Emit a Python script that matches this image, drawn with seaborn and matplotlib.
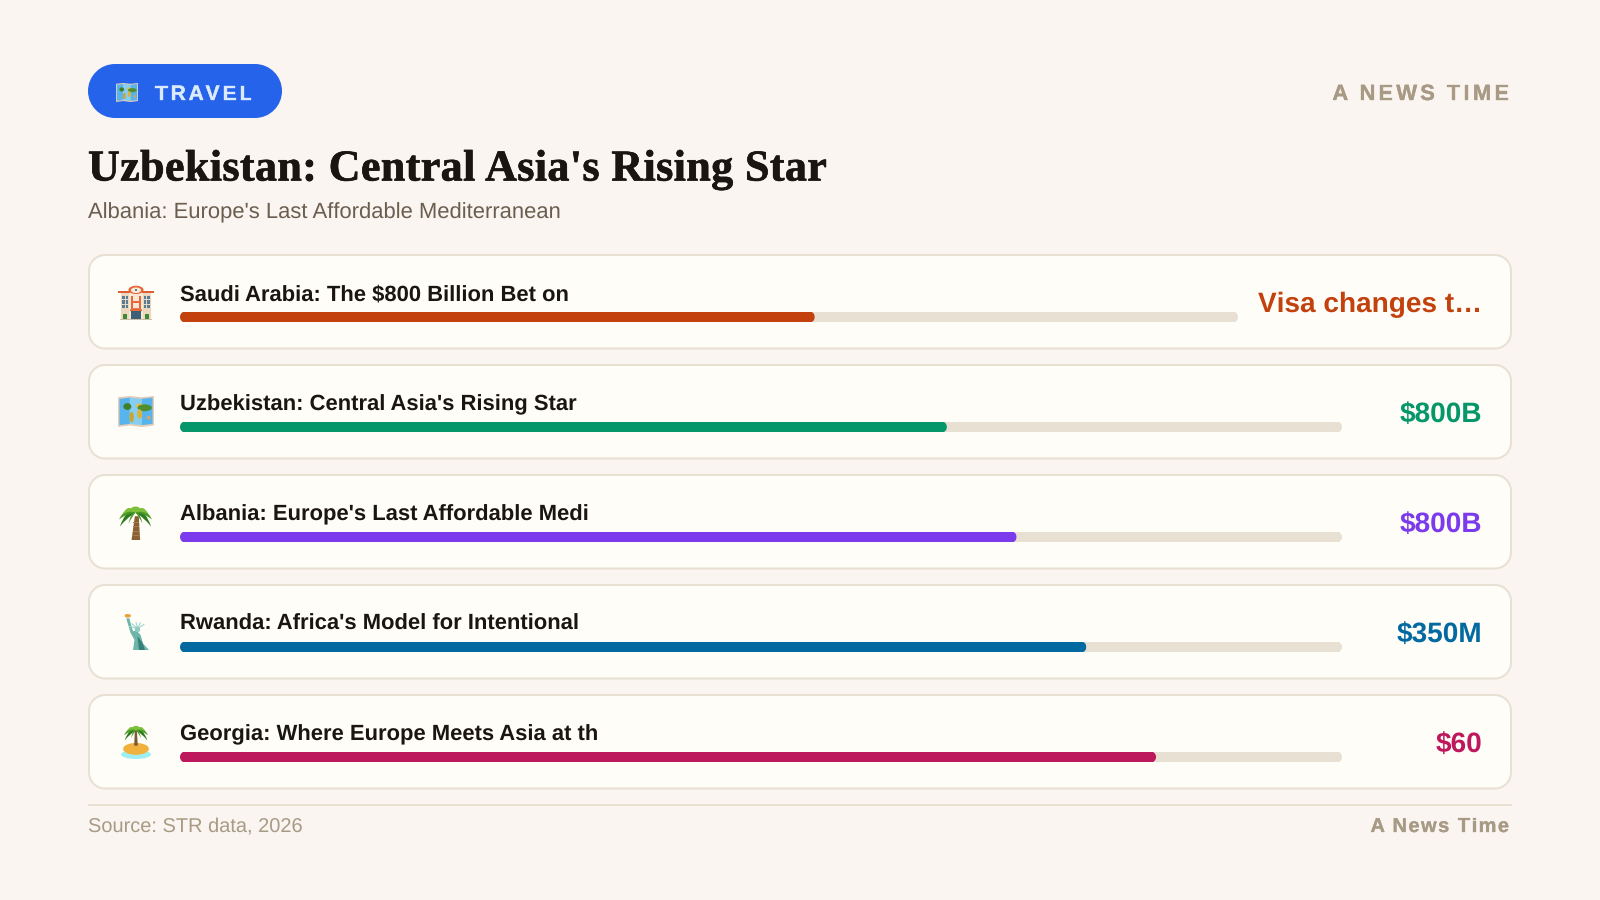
import matplotlib
matplotlib.use("Agg")
import matplotlib.pyplot as plt
import matplotlib.patheffects as pe
import numpy as np
import seaborn as sns
from matplotlib.patches import PathPatch, Rectangle, Ellipse, Polygon, Circle
from matplotlib.path import Path
from matplotlib.text import Text
from matplotlib.transforms import IdentityTransform, Bbox

# ---------- data ----------
labels = ["Saudi Arabia: The $800 Billion Bet on",
          "Uzbekistan: Central Asia's Rising Star",
          "Albania: Europe's Last Affordable Medi",
          "Rwanda: Africa's Model for Intentional",
          "Georgia: Where Europe Meets Asia at th"]
shares = [60, 66, 72, 78, 84]
value_labels = ["Visa changes t\u2026", "$800B", "$800B", "$350M", "$60"]
colors = ["#c2410c", "#059669", "#7c3aed", "#0369a1", "#be185d"]
icons = ["hotel", "map", "palm", "statue", "island"]
title = "Uzbekistan: Central Asia's Rising Star"
subtitle = "Albania: Europe's Last Affordable Mediterranean"
badge = "TRAVEL"
brand = "A NEWS TIME"
source = "Source: STR data, 2026"
brand_footer = "A News Time"
track_full = 100

BG, CARD, LINE = "#faf5f0", "#fffdf8", "#e8e0d2"
INK, MUTED, SOFT = "#1a1512", "#6b5d4f", "#a89a85"
SANS, SERIF = "Liberation Sans", "Liberation Serif"


class SpacedText(Text):
    """One text whose glyphs are drawn with CSS-like letter spacing."""

    def __init__(self, *a, spacing=0.0, **k):
        super().__init__(*a, **k)
        self._spacing = spacing

    def _layout_x(self, renderer):
        s = self.get_text()
        fp = self.get_fontproperties()
        w = lambda t: renderer.get_text_width_height_descent(t, fp, False)[0] if t else 0.0
        xs = [w(s[:i + 1]) - w(s[i]) + i * self._spacing for i in range(len(s))]
        return s, xs, w(s) + self._spacing * (len(s) - 1)

    def get_window_extent(self, renderer=None, dpi=None):
        base = super().get_window_extent(renderer, dpi)
        extra = self._spacing * (len(self.get_text()) - 1)
        if self.get_ha() == "right":
            return Bbox.from_extents(base.x0 - extra, base.y0, base.x1, base.y1)
        return Bbox.from_extents(base.x0, base.y0, base.x1 + extra, base.y1)

    def draw(self, renderer):
        if not self.get_visible():
            return
        if self._spacing == 0:
            Text.draw(self, renderer)
            return
        s, xs, total = self._layout_x(renderer)
        x0, y0 = self.get_position()
        pxx, pyy = self.get_transform().transform((x0, y0))
        start = pxx - total if self.get_ha() == "right" else pxx
        ha, tr = self.get_ha(), self.get_transform()
        self.set_ha("left")
        self.set_transform(IdentityTransform())
        for ch, dx in zip(s, xs):
            self.set_text(ch)
            self.set_position((start + dx, pyy))
            Text.draw(self, renderer)
        self.set_text(s)
        self.set_position((x0, y0))
        self.set_transform(tr)
        self.set_ha(ha)


sns.set_theme(style="white")
plt.rcParams["font.family"] = [SANS, "DejaVu Sans"]
plt.rcParams["text.hinting"] = "no_hinting"
plt.rcParams["text.hinting_factor"] = 1

fig = plt.figure(figsize=(16, 9), dpi=100, facecolor=BG)
W, H = 1600, 900
bg = fig.add_axes([0, 0, 1, 1])
bg.set_xlim(0, W)
bg.set_ylim(H, 0)
bg.axis("off")


def px(size):
    return size * 0.72


def text(x, y, s, size, color, weight="normal", family=SANS, ha="left", spacing=0.0, stroke=0):
    t = SpacedText(x, y, s, spacing=spacing, fontsize=px(size), color=color,
                   fontweight=weight, family=family, ha=ha, va="baseline")
    if stroke:
        t.set_path_effects([pe.withStroke(linewidth=stroke, foreground=color)])
    bg.add_artist(t)
    return t


def round_path(x0, y0, x1, y1, r):
    """Rounded rectangle whose corners are true circular arcs."""
    k = 0.5523 * r
    return Path([(x0 + r, y0), (x1 - r, y0),
                 (x1 - r + k, y0), (x1, y0 + r - k), (x1, y0 + r), (x1, y1 - r),
                 (x1, y1 - r + k), (x1 - r + k, y1), (x1 - r, y1), (x0 + r, y1),
                 (x0 + r - k, y1), (x0, y1 - r + k), (x0, y1 - r), (x0, y0 + r),
                 (x0, y0 + r - k), (x0 + r - k, y0), (x0 + r, y0), (x0 + r, y0)],
                [Path.MOVETO, Path.LINETO,
                 Path.CURVE4, Path.CURVE4, Path.CURVE4, Path.LINETO,
                 Path.CURVE4, Path.CURVE4, Path.CURVE4, Path.LINETO,
                 Path.CURVE4, Path.CURVE4, Path.CURVE4, Path.LINETO,
                 Path.CURVE4, Path.CURVE4, Path.CURVE4, Path.CLOSEPOLY])


def rbox(x0, y0, x1, y1, r, face, edge="none", lw=0, z=1):
    bg.add_patch(PathPatch(round_path(x0, y0, x1, y1, r), fc=face, ec=edge, lw=lw, zorder=z))


def rect(x, y, w, h, c, z=3):
    bg.add_patch(Rectangle((x, y), w, h, fc=c, ec="none", zorder=z))


def blob(pts, c, z):
    bg.add_patch(Polygon(pts, fc=c, ec="none", zorder=z, closed=True))


def draw_map(x, y, w, h):
    blob([(x, y + .04 * h), (x + .33 * w, y), (x + .66 * w, y + .04 * h), (x + w, y),
          (x + w, y + .95 * h), (x + .66 * w, y + h), (x + .33 * w, y + .95 * h), (x, y + h)], "#e6cdb8", 3)
    blob([(x + .04 * w, y + .09 * h), (x + .33 * w, y + .05 * h), (x + .33 * w, y + .90 * h), (x + .04 * w, y + .94 * h)],
         "#58b4ec", 3.1)
    blob([(x + .33 * w, y + .05 * h), (x + .66 * w, y + .09 * h), (x + .66 * w, y + .94 * h), (x + .33 * w, y + .90 * h)],
         "#87cdf2", 3.1)
    blob([(x + .66 * w, y + .09 * h), (x + .96 * w, y + .05 * h), (x + .96 * w, y + .90 * h), (x + .66 * w, y + .94 * h)],
         "#58b4ec", 3.1)
    for cx, cy, a, b, c in [(.26, .34, .22, .22, "#3f7f2a"), (.38, .68, .12, .34, "#c9a62e"),
                            (.60, .32, .20, .16, "#e0c04a"), (.74, .38, .40, .22, "#4f8f30"),
                            (.60, .58, .14, .30, "#d9b33a"), (.85, .70, .10, .12, "#e8a24a")]:
        bg.add_patch(Ellipse((x + cx * w, y + cy * h), a * w, b * h, fc=c, ec="none", zorder=3.3))


def draw_hotel(x, y, w, h):
    rect(x + .07 * w, y + .18 * h, .86 * w, .80 * h, "#ecd9bd")
    rect(x + .30 * w, y + .08 * h, .40 * w, .88 * h, "#f7e9d6", 3.1)
    bg.add_patch(Ellipse((x + .5 * w, y + .14 * h), .42 * w, .24 * h, fc="#e5673a", ec="none", zorder=3.2))
    bg.add_patch(Ellipse((x + .5 * w, y + .15 * h), .28 * w, .16 * h, fc="#f7e9d6", ec="none", zorder=3.25))
    rect(x + .47 * w, y + .10 * h, .06 * w, .08 * h, "#5d7f9a", 3.3)
    rect(x, y + .17 * h, .32 * w, .07 * h, "#de5f33", 3.2)
    rect(x + .68 * w, y + .17 * h, .32 * w, .07 * h, "#de5f33", 3.2)
    for fx in (.12, .21, .72, .81):
        for fy in (.30, .44, .58):
            rect(x + fx * w, y + fy * h, .07 * w, .09 * h, "#587b96", 3.3)
    rect(x + .36 * w, y + .30 * h, .07 * w, .38 * h, "#e5673a", 3.4)
    rect(x + .57 * w, y + .30 * h, .07 * w, .38 * h, "#e5673a", 3.4)
    rect(x + .36 * w, y + .46 * h, .28 * w, .06 * h, "#e5673a", 3.4)
    bg.add_patch(Ellipse((x + .5 * w, y + .72 * h), .34 * w, .12 * h, fc="#e5673a", ec="none", zorder=3.3))
    rect(x + .36 * w, y + .74 * h, .28 * w, .23 * h, "#3d5f78", 3.4)
    for fx in (.14, .74):
        rect(x + fx * w, y + .84 * h, .12 * w, .12 * h, "#3f8a3a", 3.4)
    rect(x + .05 * w, y + .96 * h, .90 * w, .04 * h, "#cdbfa8", 3.5)


def frond(cx, cy, dx, dy, lift, thick, c, z):
    tip = (cx + dx, cy + dy)
    bg.add_patch(PathPatch(Path([(cx, cy), (cx + .55 * dx, cy + lift), tip,
                                 (cx + .5 * dx, cy + lift + thick), (cx, cy)],
                                [Path.MOVETO, Path.CURVE3, Path.CURVE3, Path.CURVE3, Path.CURVE3]),
                           fc=c, ec="none", zorder=z))


def fronds(cx, cy, s, z=3.4):
    dark, mid, light = "#2f7a1e", "#4a9a26", "#7cc03a"
    for sgn in (-1, 1):
        frond(cx, cy, sgn * .95 * s, .85 * s, -.34 * s, .60 * s, dark, z)
        frond(cx, cy, sgn * 1.0 * s, .42 * s, -.50 * s, .52 * s, mid, z + .01)
        frond(cx, cy, sgn * .78 * s, .10 * s, -.62 * s, .46 * s, light, z + .02)
        frond(cx, cy, sgn * .42 * s, .66 * s, -.18 * s, .42 * s, mid, z + .03)
    bg.add_patch(Ellipse((cx, cy - .20 * s), .56 * s, .34 * s, fc=light, ec="none", zorder=z + .04))


def draw_palm(x, y, w, h):
    cx = x + .50 * w
    blob([(cx - .02 * w, y + .34 * h), (cx + .10 * w, y + .34 * h), (cx + .14 * w, y + h), (cx - .12 * w, y + h)],
         "#8a5f34", 3.2)
    for fy in (.5, .62, .74, .86):
        rect(cx - .09 * w, y + fy * h, .20 * w, .025 * h, "#a87c4a", 3.25)
    fronds(cx, y + .24 * h, .50 * w)


def draw_statue(x, y, w, h):
    c = "#6cb5aa"
    blob([(x + .05 * w, y + .12 * h), (x + .17 * w, y + .12 * h), (x + .32 * w, y + .48 * h),
          (x + .46 * w, y + .46 * h), (x + .62 * w, y + .58 * h), (x + .72 * w, y + .82 * h),
          (x + .96 * w, y + h), (x + .32 * w, y + h), (x + .38 * w, y + .72 * h),
          (x + .22 * w, y + .52 * h)], c, 3.2)
    blob([(x + .50 * w, y + .62 * h), (x + .70 * w, y + .80 * h), (x + .80 * w, y + h), (x + .56 * w, y + h)],
         "#358079", 3.3)
    bg.add_patch(Circle((x + .50 * w, y + .43 * h), .11 * w, fc="#8cccc2", ec="none", zorder=3.4))
    for a in (-70, -40, -10, 20, 50):
        t = np.deg2rad(a - 90)
        bg.plot([x + .5 * w, x + .5 * w + .34 * w * np.cos(t)], [y + .40 * h, y + .40 * h + .17 * h * np.sin(t)],
                color="#9fd6cd", lw=.8, zorder=3.3, solid_capstyle="round")
    bg.add_patch(Ellipse((x + .11 * w, y + .05 * h), .26 * w, .10 * h, fc="#e9a23b", ec="none", zorder=3.4))


def draw_island(x, y, w, h):
    bg.add_patch(Ellipse((x + .5 * w, y + .87 * h), w, .26 * h, fc="#9eeef2", ec="none", zorder=3.1))
    bg.add_patch(Ellipse((x + .5 * w, y + .71 * h), .86 * w, .34 * h, fc="#f0b23c", ec="none", zorder=3.2))
    blob([(x + .46 * w, y + .20 * h), (x + .53 * w, y + .20 * h), (x + .56 * w, y + .62 * h), (x + .44 * w, y + .62 * h)],
         "#7a5a32", 3.3)
    fronds(x + .5 * w, y + .18 * h, .40 * w)


ICON = {"hotel": (draw_hotel, 118, 285 - 254, 36, 35), "map": (draw_map, 118, 396 - 364, 36, 31),
        "palm": (draw_palm, 119, 504 - 474, 33, 36), "statue": (draw_statue, 125, 614 - 584, 25, 36),
        "island": (draw_island, 121, 724 - 694, 30, 35)}

# ---------- header ----------
rbox(88, 64, 282, 118, 27, "#2563eb")
draw_map(116, 83, 22, 19)
text(155, 100, badge, 21, "#dbeafe", "bold", spacing=2.8, stroke=.25)
text(1509, 100, brand, 22, SOFT, "bold", ha="right", spacing=3.1, stroke=.25)
text(88, 180.5, title, 44, INK, "bold", SERIF, spacing=0.4, stroke=.5)
text(88, 218, subtitle, 22, MUTED)

# ---------- rows ----------
for i, (lab, share, val, col, ico) in enumerate(zip(labels, shares, value_labels, colors, icons)):
    top = 254 + 110 * i
    rbox(89, top + 1, 1511, top + 94.5, 16, CARD, LINE, 1.44)
    fn, ix, iy, iw, ih = ICON[ico]
    fn(ix, top + iy, iw, ih)
    text(180, top + 46.1, lab, 22, INK, "bold")
    text(1482, top + 58, val, 28, col, "bold", ha="right")

    x_end = 1238 if i == 0 else 1342
    ax = fig.add_axes([180 / W, 1 - (top + 68) / H, (x_end - 180) / W, 10 / H])
    ax.patch.set_alpha(0)
    sns.barplot(x=[track_full], y=[lab], color=LINE, saturation=1, width=1, ax=ax)
    sns.barplot(x=[share], y=[lab], color=col, saturation=1, width=1, ax=ax)
    ax.set_xlim(0, track_full)
    ax.set_ylim(.5, -.5)
    ax.axis("off")
    for bar in ax.patches:
        e = bar.get_window_extent()
        bar.set_linewidth(0)
        bar.set_edgecolor("none")
        bar.set_clip_path(round_path(e.x0, e.y0 - .7, e.x1, e.y1 + .7, e.height / 2 + .7), IdentityTransform())
        bar.set_snap(False)

# ---------- footer ----------
bg.plot([88, 1512], [805, 805], color=LINE, lw=1.44, solid_capstyle="butt")
text(88, 832, source, 20, SOFT)
text(1509, 832, brand_footer, 20, SOFT, "bold", ha="right", spacing=1.5, stroke=.2)

fig.savefig("out.png", dpi=100, facecolor=BG)
